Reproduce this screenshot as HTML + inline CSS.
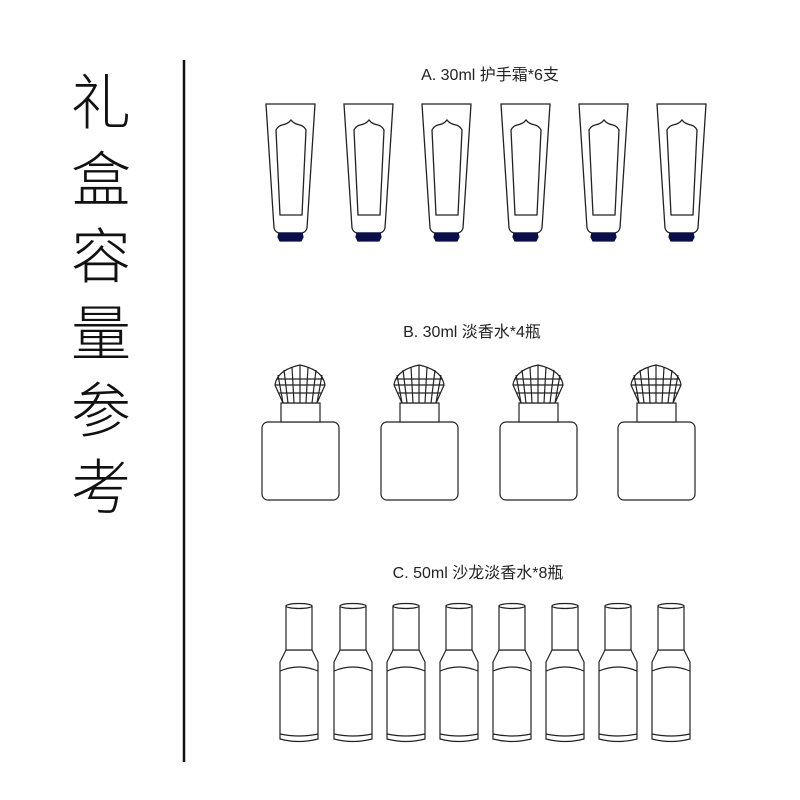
<!DOCTYPE html>
<html><head><meta charset="utf-8"><style>
html,body{margin:0;padding:0;background:#fff;width:800px;height:800px;overflow:hidden}
.t{position:absolute;left:68px;top:60px;width:66px;font-family:"Noto Sans CJK SC",sans-serif;font-weight:300;font-size:60px;line-height:77px;text-align:center;color:#111}
.l{position:absolute;font-family:"Liberation Sans","Noto Sans CJK SC",sans-serif;font-size:16px;color:#222;white-space:nowrap;transform:translateX(-50%)}
svg{position:absolute;left:0;top:0}
</style></head><body>
<div class="t">礼<br>盒<br>容<br>量<br>参<br>考</div>
<div class="l" style="left:490px;top:61px">A. 30ml 护手霜*6支</div>
<div class="l" style="left:472px;top:318px">B. 30ml 淡香水*4瓶</div>
<div class="l" style="left:478px;top:559px">C. 50ml 沙龙淡香水*8瓶</div>
<svg width="800" height="800" viewBox="0 0 800 800">
<defs>
<g id="tube" fill="none" stroke="#222" stroke-width="1.3">
<path d="M0,0 H49 L41,124 Q40,128 36,129 H13 Q9,128 8,124 Z" fill="#fff"/>
<path d="M10,26 Q12,22 16,21 Q22,20 25,16 Q28,20 34,21 Q38,22 40,26 L36,111 H14 Z"/>
<path d="M13,129 H36 L37,133 L35,137 H14 L12,133 Z" fill="#0a0f4a" stroke="#0a0f4a"/>
</g>
<g id="perf" fill="none" stroke="#222" stroke-width="1.2">
<rect x="-38" y="57" width="77" height="78" rx="6" fill="#fff"/>
<rect x="-19" y="38" width="39" height="19" fill="#fff"/>
<path d="M-17,38 L-25,20 Q-23,5 0,0 Q23,5 25,20 L17,38 Z" fill="#fff"/>
<path d="M-25,20 H25 M-23,14 H23 M-21,28 H21 M-12,38 L-16,5 M-6,38 L-8,2 M0,38 V0 M6,38 L8,2 M12,38 L16,5 M-17,38 L-22,10 M17,38 L22,10"/>
</g>
<g id="bot" fill="none" stroke="#222" stroke-width="1.2">
<path d="M-13,46 L-19,58 V135 Q0,140 19,135 V58 L13,46 Z" fill="#fff"/>
<path d="M-19,67 Q0,59 19,67 M-19,130 Q0,134 19,130"/>
<rect x="-13" y="2" width="26" height="44" fill="#fff"/>
<ellipse cx="0" cy="2" rx="13" ry="2.5" fill="#fff"/>
</g>
</defs>
<line x1="184" y1="60" x2="184" y2="762" stroke="#111" stroke-width="2.5"/>
<use href="#tube" x="266" y="104"/><use href="#tube" x="344" y="104"/><use href="#tube" x="422" y="104"/><use href="#tube" x="501" y="104"/><use href="#tube" x="579" y="104"/><use href="#tube" x="657" y="104"/>
<use href="#perf" x="300" y="365"/><use href="#perf" x="419" y="365"/><use href="#perf" x="538" y="365"/><use href="#perf" x="656" y="365"/>
<use href="#bot" x="299" y="604"/><use href="#bot" x="353" y="604"/><use href="#bot" x="406" y="604"/><use href="#bot" x="459" y="604"/><use href="#bot" x="512" y="604"/><use href="#bot" x="565" y="604"/><use href="#bot" x="618" y="604"/><use href="#bot" x="671" y="604"/>
</svg>
</body></html>
